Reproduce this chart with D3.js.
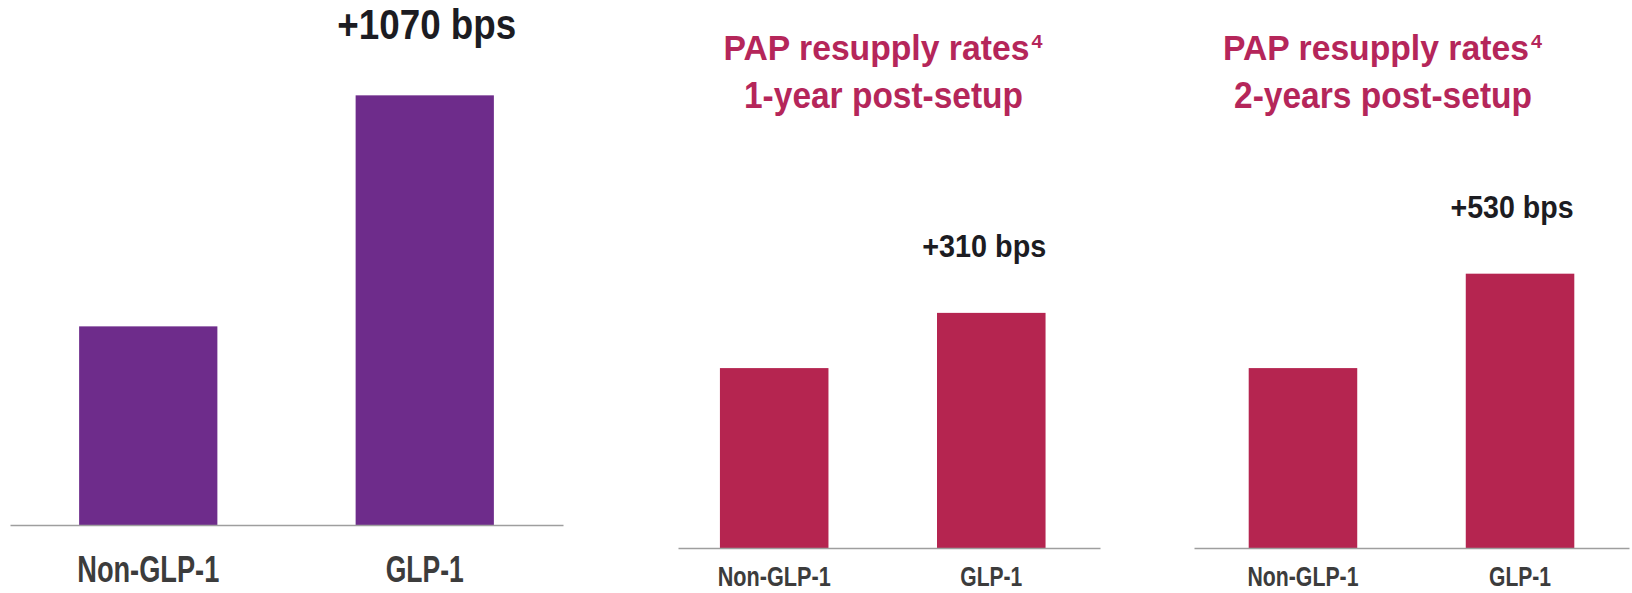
<!DOCTYPE html>
<html>
<head>
<meta charset="utf-8">
<script src="https://cdn.jsdelivr.net/npm/d3@7"></script>
<style>
  html, body { margin: 0; padding: 0; background: #ffffff; }
  svg { display: block; }
  text { font-family: "Liberation Sans Narrow", "Liberation Sans", Arial, sans-serif; font-weight: bold; }
</style>
</head>
<body>
<svg id="chart" width="1632" height="593"></svg>
<script>
// ---- data ----
const categories = ["Non-GLP-1", "GLP-1"];
const panel1Values = [9.2, 19.9];   // left panel (purple)
const panel2Values = [10.1, 13.2];  // PAP resupply rates, 1-year post-setup
const panel3Values = [10.1, 15.4];  // PAP resupply rates, 2-years post-setup
const deltaLabels = ["+1070 bps", "+310 bps", "+530 bps"];
const titleLine1 = ["", "PAP resupply rates", "PAP resupply rates"];
const titleSup = ["", "4", "4"];
const titleLine2 = ["", "1-year post-setup", "2-years post-setup"];

// ---- layout ----
const layout = [
  {values: panel1Values, x0: 10, x1: 563, baseY: 525, topY: 50, yMax: 22, po: 0.25, align: 0.5,
   color: "#6e2c8b", catFs: 37, catDy: 57, catLen: [142, 78], deltaFs: 43, deltaLen: 179, deltaDx: 2},
  {values: panel2Values, x0: 678, x1: 1100, baseY: 548, topY: 263, yMax: 16, po: 0.222, align: 0.435,
   color: "#b52550", catFs: 28, catDy: 38, catLen: [113, 62], deltaFs: 32, deltaLen: 124, deltaDx: -7,
   titleCx: 883.5, l1Len: 306, l2Len: 279},
  {values: panel3Values, x0: 1194, x1: 1629, baseY: 548, topY: 263, yMax: 16, po: 0.252, align: 0.5,
   color: "#b52550", catFs: 28, catDy: 38, catLen: [111, 62], deltaFs: 32, deltaLen: 123, deltaDx: -8,
   titleCx: 1383, l1Len: 306, l2Len: 298}
];

const svg = d3.select("#chart");
const titleColor = "#b5265a";

// place a text so that its natural width is scaled horizontally to `len`
function fitText(g, str, x, y, len, fs, fill) {
  const t = g.append("text")
    .attr("x", 0).attr("y", 0)
    .attr("fill", fill)
    .style("font-size", fs + "px")
    .text(str);
  const w = t.node().getComputedTextLength() || len;
  t.attr("transform", `translate(${x},${y}) scale(${len / w},1)`);
  return t;
}

layout.forEach((p, i) => {
  const g = svg.append("g");
  const x = d3.scaleBand().domain(categories).range([p.x0, p.x1])
    .paddingInner(0.5).paddingOuter(p.po).align(p.align);
  const y = d3.scaleLinear().domain([0, p.yMax]).range([p.baseY, p.topY]);

  // bars
  g.selectAll("rect.bar").data(categories).join("rect")
    .attr("class", "bar")
    .attr("x", d => x(d))
    .attr("width", x.bandwidth())
    .attr("y", (d, k) => y(p.values[k]))
    .attr("height", (d, k) => y(0) - y(p.values[k]))
    .attr("fill", p.color);

  // axis
  const ax = g.append("g").attr("transform", `translate(0,${y(0)})`)
    .call(d3.axisBottom(x).tickSize(0).tickSizeOuter(0));
  ax.select(".domain").attr("stroke", "#9e9e9e").attr("stroke-width", 1.6);
  ax.selectAll(".tick text")
    .attr("y", p.catDy).attr("dy", null)
    .attr("fill", "#3c3c3c")
    .style("font-size", p.catFs + "px")
    .style("font-family", '"Liberation Sans Narrow", "Liberation Sans", Arial, sans-serif')
    .style("font-weight", "bold")
    .attr("textLength", (d, k) => p.catLen[k])
    .attr("lengthAdjust", "spacingAndGlyphs");

  // delta label above the GLP-1 bar
  const last = categories[categories.length - 1];
  g.append("text")
    .attr("x", x(last) + x.bandwidth() / 2 + p.deltaDx)
    .attr("y", y(p.values[1]) - 56)
    .attr("text-anchor", "middle")
    .attr("fill", "#1c1c22")
    .style("font-size", p.deltaFs + "px")
    .attr("textLength", p.deltaLen)
    .attr("lengthAdjust", "spacingAndGlyphs")
    .text(deltaLabels[i]);

  // title
  if (titleLine1[i]) {
    const l1Start = p.titleCx - (p.l1Len + 14) / 2;
    fitText(g, titleLine1[i], l1Start, 60, p.l1Len, 36, titleColor);
    fitText(g, titleSup[i], l1Start + p.l1Len + 2, 48, 11, 19, titleColor);
    g.append("text")
      .attr("x", p.titleCx).attr("y", 108)
      .attr("text-anchor", "middle")
      .attr("fill", titleColor)
      .style("font-size", "36px")
      .attr("textLength", p.l2Len)
      .attr("lengthAdjust", "spacingAndGlyphs")
      .text(titleLine2[i]);
  }
});
</script>
</body>
</html>
